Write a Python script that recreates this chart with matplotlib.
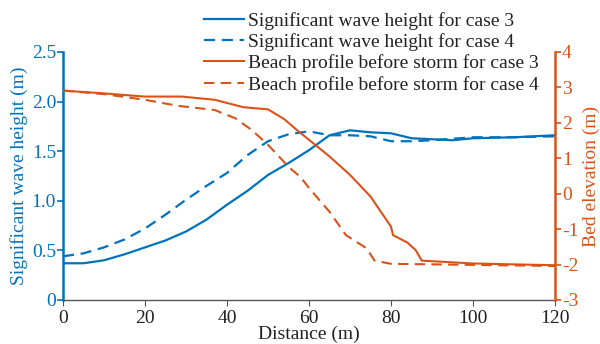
import matplotlib
matplotlib.use("Agg")
import matplotlib.pyplot as plt

plt.rcParams['font.family'] = ['Liberation Serif', 'DejaVu Serif']
plt.rcParams['mathtext.fontset'] = 'stix'

BLUE = '#0072BD'
ORANGE = '#D95319'

# Significant wave height, case 3
hs3_x = [0, 5, 10, 15, 20, 25, 30, 35, 40, 45, 50, 55, 60, 65, 70, 75, 80, 85, 90, 95, 100, 110, 120]
hs3_y = [0.37, 0.37, 0.40, 0.46, 0.53, 0.60, 0.69, 0.81, 0.96, 1.10, 1.26, 1.38, 1.51, 1.66, 1.71, 1.69, 1.68, 1.63, 1.62, 1.61, 1.63, 1.64, 1.66]
# Significant wave height, case 4
hs4_x = [0, 5, 10, 15, 20, 25, 30, 35, 40, 45, 50, 55, 60, 65, 70, 75, 80, 85, 90, 100, 110, 120]
hs4_y = [0.44, 0.47, 0.53, 0.61, 0.72, 0.86, 1.01, 1.15, 1.28, 1.46, 1.60, 1.67, 1.70, 1.66, 1.66, 1.65, 1.60, 1.60, 1.61, 1.64, 1.64, 1.65]
# Beach profile before storm, case 3
bp3_x = [0, 10, 20, 29, 37, 44, 50, 54, 57, 60, 65, 70, 75, 80, 80.5, 84, 86, 87.5, 100, 120]
bp3_y = [2.91, 2.83, 2.74, 2.74, 2.65, 2.44, 2.38, 2.10, 1.80, 1.52, 1.05, 0.53, -0.08, -0.93, -1.17, -1.38, -1.59, -1.89, -1.97, -2.02]
# Beach profile before storm, case 4
bp4_x = [0, 10, 20, 28, 37, 42, 46, 50, 55, 58, 60, 65, 69, 74, 76, 80, 100, 120]
bp4_y = [2.91, 2.81, 2.65, 2.48, 2.36, 2.13, 1.80, 1.38, 0.76, 0.46, 0.16, -0.51, -1.17, -1.54, -1.89, -1.98, -2.01, -2.04]

labels = ['Significant wave height for case 3',
          'Significant wave height for case 4',
          'Beach profile before storm for case 3',
          'Beach profile before storm for case 4']

fig = plt.figure(figsize=(6.0, 3.44), dpi=100)
ax = fig.add_axes([0.105, 0.128, 0.82, 0.721])
ax2 = ax.twinx()

DASH = (0, (5, 3))
l1, = ax.plot(hs3_x, hs3_y, color=BLUE, lw=1.6, ls='-')
l2, = ax.plot(hs4_x, hs4_y, color=BLUE, lw=1.6, ls=DASH)
l3, = ax2.plot(bp3_x, bp3_y, color=ORANGE, lw=1.5, ls='-')
l4, = ax2.plot(bp4_x, bp4_y, color=ORANGE, lw=1.5, ls=DASH)

ax.set_xlim(0, 120)
ax.set_ylim(0, 2.5)
ax2.set_ylim(-3, 4)
ax.set_xticks([0, 20, 40, 60, 80, 100, 120])
ax.set_yticks([0, 0.5, 1.0, 1.5, 2.0, 2.5])
ax.set_yticklabels(['0', '0.5', '1.0', '1.5', '2.0', '2.5'])
ax2.set_yticks([-3, -2, -1, 0, 1, 2, 3, 4])
ax2.set_yticklabels(['-3', '-2', '-1', '0', '1', '2', '3', '4'])

fs = 14
for a in (ax, ax2):
    a.spines['top'].set_visible(False)
ax.spines['right'].set_visible(False)
ax2.spines['left'].set_visible(False)
ax2.spines['bottom'].set_visible(False)
ax.spines['left'].set_color(BLUE)
ax.spines['left'].set_linewidth(1.8)
ax2.spines['right'].set_color(ORANGE)
ax2.spines['right'].set_linewidth(1.8)
ax.spines['bottom'].set_color('#555555')
ax.spines['bottom'].set_linewidth(1.0)

ax.tick_params(axis='y', colors=BLUE, labelsize=fs, length=4, width=1.2, pad=1)
ax.tick_params(axis='x', colors='#555555', labelcolor='#222222', labelsize=fs, length=4, pad=3)
ax2.tick_params(axis='y', colors=ORANGE, labelsize=fs, length=4, width=1.2, pad=1)

ax.set_xlabel('Distance (m)', fontsize=fs, color='#222222', labelpad=-1)
ax.set_ylabel('Significant wave height (m)', fontsize=fs, color=BLUE, labelpad=3)
ax2.set_ylabel('Bed elevation (m)', fontsize=fs, color=ORANGE, labelpad=3)

fig.legend([l1, l2, l3, l4], labels, loc='upper right', bbox_to_anchor=(0.918, 1.0),
           frameon=False, fontsize=fs, handlelength=2.1, handletextpad=0.2,
           labelspacing=0.18, borderaxespad=0.2, labelcolor='#222222')

fig.savefig('out.png', dpi=100)
